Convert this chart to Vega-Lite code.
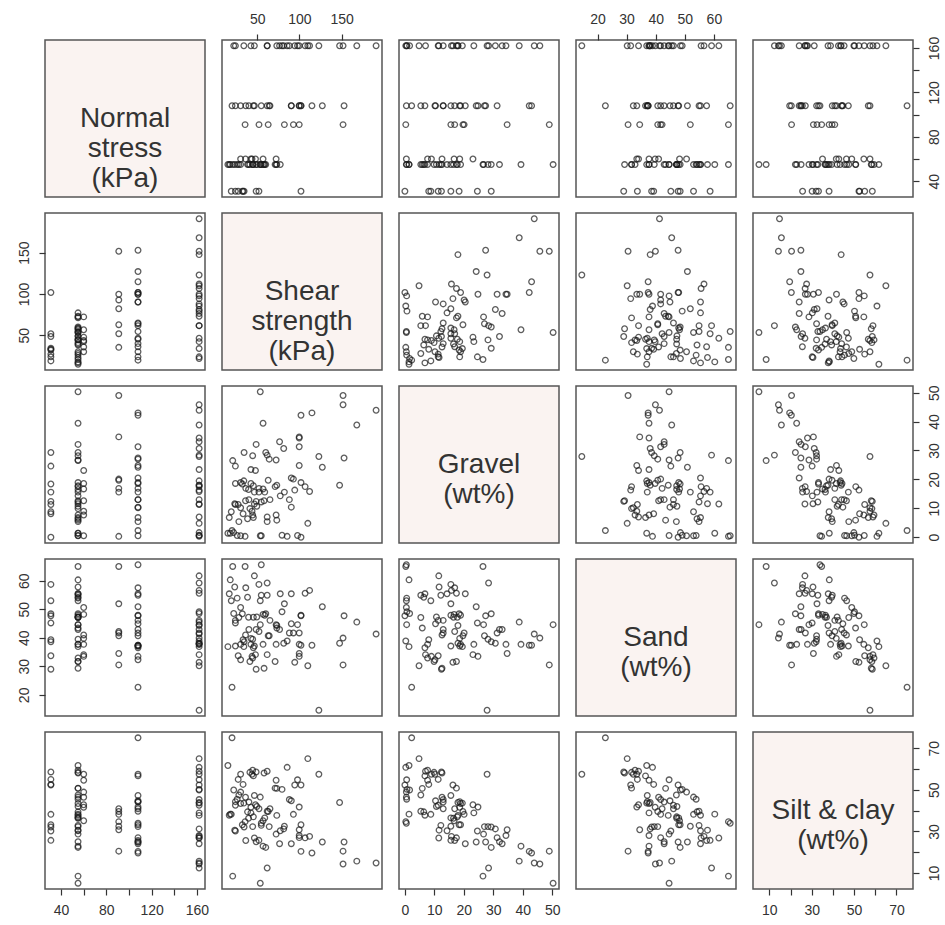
{
  "$schema": "https://vega.github.io/schema/vega-lite/v6.json",
  "background": "white",
  "padding": {"left": 16, "top": 11, "right": 5, "bottom": 5},
  "columns": 5,
  "spacing": {"row": 16, "column": 17},
  "bounds": "flush",
  "config": {
    "view": {"stroke": "#555", "strokeWidth": 1.5},
    "axis": {"domain": false, "grid": false, "tickSize": 6, "tickColor": "#333", "tickWidth": 1.2, "labelColor": "#333", "labelFont": "Liberation Sans", "labelFontSize": 14, "labelPadding": 8, "labelOverlap": false, "labelFlush": false, "title": null}
  },
  "datasets": {
    "labels": [
      {"var": "ns", "label": "Normal\nstress\n(kPa)"},
      {"var": "sh", "label": "Shear\nstrength\n(kPa)"},
      {"var": "g", "label": "Gravel\n(wt%)"},
      {"var": "sa", "label": "Sand\n(wt%)"},
      {"var": "si", "label": "Silt & clay\n(wt%)"}
    ],
    "samples": [
      {"ns":31,"sh":101.8,"g":0.0,"sa":47.7,"si":52.3},
      {"ns":91,"sh":35.5,"g":0.3,"sa":65.0,"si":34.7},
      {"ns":162,"sh":85.4,"g":0.3,"sa":38.9,"si":60.8},
      {"ns":108,"sh":54.7,"g":0.5,"sa":65.6,"si":33.9},
      {"ns":55,"sh":53.5,"g":0.5,"sa":53.0,"si":46.5},
      {"ns":60,"sh":30.2,"g":0.5,"sa":50.6,"si":48.9},
      {"ns":55,"sh":26.1,"g":0.6,"sa":53.9,"si":45.5},
      {"ns":162,"sh":97.7,"g":0.6,"sa":44.6,"si":54.8},
      {"ns":162,"sh":79.3,"g":0.7,"sa":49.1,"si":50.2},
      {"ns":55,"sh":17.9,"g":1.4,"sa":60.3,"si":38.3},
      {"ns":55,"sh":15.1,"g":1.4,"sa":36.9,"si":61.7},
      {"ns":162,"sh":22.0,"g":1.6,"sa":48.5,"si":49.9},
      {"ns":108,"sh":20.0,"g":2.3,"sa":22.7,"si":75.0},
      {"ns":162,"sh":109.9,"g":4.8,"sa":30.2,"si":65.0},
      {"ns":108,"sh":61.7,"g":5.4,"sa":54.9,"si":39.7},
      {"ns":55,"sh":28.1,"g":5.4,"sa":47.1,"si":47.5},
      {"ns":55,"sh":73.1,"g":5.9,"sa":43.4,"si":50.7},
      {"ns":55,"sh":38.4,"g":6.4,"sa":54.2,"si":39.4},
      {"ns":55,"sh":16.7,"g":6.8,"sa":55.4,"si":37.8},
      {"ns":108,"sh":45.3,"g":6.8,"sa":36.5,"si":56.7},
      {"ns":162,"sh":61.7,"g":7.0,"sa":34.1,"si":58.9},
      {"ns":60,"sh":72.3,"g":7.7,"sa":37.7,"si":54.6},
      {"ns":55,"sh":44.5,"g":7.7,"sa":32.9,"si":59.4},
      {"ns":31,"sh":33.1,"g":8.1,"sa":39.3,"si":52.6},
      {"ns":31,"sh":19.1,"g":8.8,"sa":53.0,"si":38.2},
      {"ns":60,"sh":43.7,"g":9.0,"sa":33.5,"si":57.5},
      {"ns":55,"sh":41.2,"g":9.9,"sa":31.7,"si":58.4},
      {"ns":108,"sh":30.2,"g":10.2,"sa":32.3,"si":57.5},
      {"ns":108,"sh":90.3,"g":10.4,"sa":44.9,"si":44.7},
      {"ns":55,"sh":49.4,"g":10.7,"sa":47.3,"si":42.0},
      {"ns":162,"sh":24.0,"g":11.3,"sa":46.1,"si":42.6},
      {"ns":31,"sh":27.3,"g":11.3,"sa":33.7,"si":55.0},
      {"ns":162,"sh":46.5,"g":11.5,"sa":61.7,"si":26.8},
      {"ns":55,"sh":23.2,"g":11.6,"sa":57.8,"si":30.6},
      {"ns":55,"sh":54.7,"g":12.2,"sa":54.9,"si":32.9},
      {"ns":31,"sh":48.6,"g":12.4,"sa":29.0,"si":58.6},
      {"ns":60,"sh":36.0,"g":12.6,"sa":41.0,"si":46.4},
      {"ns":55,"sh":58.0,"g":12.6,"sa":29.3,"si":58.1},
      {"ns":108,"sh":65.0,"g":13.0,"sa":46.1,"si":40.9},
      {"ns":108,"sh":40.0,"g":13.0,"sa":42.9,"si":44.1},
      {"ns":162,"sh":88.0,"g":13.0,"sa":41.7,"si":45.3},
      {"ns":55,"sh":77.2,"g":14.3,"sa":55.4,"si":30.3},
      {"ns":31,"sh":51.9,"g":15.6,"sa":58.7,"si":25.7},
      {"ns":91,"sh":82.1,"g":15.6,"sa":51.9,"si":32.5},
      {"ns":55,"sh":58.8,"g":15.6,"sa":47.9,"si":36.5},
      {"ns":108,"sh":46.5,"g":15.6,"sa":37.1,"si":47.3},
      {"ns":162,"sh":112.0,"g":15.8,"sa":56.6,"si":27.6},
      {"ns":162,"sh":94.4,"g":16.3,"sa":31.4,"si":52.3},
      {"ns":55,"sh":39.6,"g":16.5,"sa":47.2,"si":36.3},
      {"ns":60,"sh":56.8,"g":16.7,"sa":48.2,"si":35.1},
      {"ns":108,"sh":36.3,"g":16.9,"sa":57.5,"si":25.6},
      {"ns":91,"sh":52.0,"g":16.9,"sa":42.2,"si":40.9},
      {"ns":162,"sh":106.7,"g":17.5,"sa":55.6,"si":26.9},
      {"ns":55,"sh":71.1,"g":17.5,"sa":31.7,"si":50.8},
      {"ns":55,"sh":45.3,"g":17.8,"sa":47.2,"si":37.0},
      {"ns":162,"sh":73.1,"g":18.0,"sa":44.3,"si":37.7},
      {"ns":162,"sh":147.6,"g":18.0,"sa":38.1,"si":43.9},
      {"ns":31,"sh":32.2,"g":18.4,"sa":48.4,"si":33.2},
      {"ns":60,"sh":42.4,"g":18.6,"sa":39.8,"si":41.6},
      {"ns":108,"sh":24.0,"g":18.6,"sa":37.1,"si":44.3},
      {"ns":108,"sh":101.8,"g":18.9,"sa":47.9,"si":33.2},
      {"ns":55,"sh":30.2,"g":18.9,"sa":37.7,"si":43.4},
      {"ns":162,"sh":34.0,"g":19.5,"sa":36.9,"si":43.6},
      {"ns":91,"sh":62.9,"g":19.7,"sa":40.7,"si":39.6},
      {"ns":91,"sh":92.8,"g":20.1,"sa":41.7,"si":38.2},
      {"ns":108,"sh":90.3,"g":20.5,"sa":55.4,"si":24.1},
      {"ns":60,"sh":47.8,"g":23.1,"sa":34.1,"si":42.8},
      {"ns":162,"sh":42.4,"g":23.4,"sa":37.7,"si":38.9},
      {"ns":108,"sh":127.1,"g":24.2,"sa":50.9,"si":24.9},
      {"ns":31,"sh":24.0,"g":24.6,"sa":45.2,"si":30.2},
      {"ns":108,"sh":99.7,"g":24.8,"sa":33.5,"si":41.7},
      {"ns":55,"sh":20.8,"g":26.5,"sa":65.0,"si":8.5},
      {"ns":55,"sh":72.3,"g":26.7,"sa":44.6,"si":28.7},
      {"ns":108,"sh":64.1,"g":27.0,"sa":40.7,"si":32.3},
      {"ns":108,"sh":152.9,"g":27.4,"sa":47.7,"si":24.9},
      {"ns":162,"sh":123.0,"g":27.9,"sa":14.6,"si":57.5},
      {"ns":55,"sh":44.5,"g":28.2,"sa":39.5,"si":32.3},
      {"ns":162,"sh":61.7,"g":28.4,"sa":59.2,"si":12.4},
      {"ns":55,"sh":60.0,"g":29.3,"sa":48.4,"si":22.3},
      {"ns":31,"sh":34.3,"g":29.3,"sa":38.6,"si":32.1},
      {"ns":162,"sh":81.3,"g":30.7,"sa":38.1,"si":31.2},
      {"ns":108,"sh":99.7,"g":31.3,"sa":41.7,"si":27.0},
      {"ns":55,"sh":48.6,"g":32.1,"sa":42.9,"si":25.0},
      {"ns":162,"sh":76.4,"g":33.0,"sa":42.9,"si":24.1},
      {"ns":162,"sh":99.7,"g":34.3,"sa":37.7,"si":28.0},
      {"ns":91,"sh":99.7,"g":34.7,"sa":34.5,"si":30.8},
      {"ns":162,"sh":168.0,"g":38.8,"sa":45.5,"si":15.7},
      {"ns":55,"sh":56.8,"g":39.4,"sa":37.7,"si":22.9},
      {"ns":108,"sh":101.8,"g":42.2,"sa":37.4,"si":20.4},
      {"ns":108,"sh":114.8,"g":43.0,"sa":37.4,"si":19.6},
      {"ns":162,"sh":190.9,"g":43.9,"sa":41.3,"si":14.8},
      {"ns":162,"sh":151.7,"g":45.8,"sa":39.9,"si":14.3},
      {"ns":91,"sh":151.7,"g":49.0,"sa":30.5,"si":20.5},
      {"ns":55,"sh":53.5,"g":50.3,"sa":44.6,"si":5.1}
    ]
  },
  "concat": [
    {"width":160,"height":157,"view":{"fill":"#faf3f1"},"data":{"name":"labels"},"transform":[{"filter":"datum.var == 'ns'"}],
     "mark":{"type":"text","font":"Liberation Sans","fontSize":28,"color":"#333","lineBreak":"\n","lineHeight":30,"baseline":"middle","align":"center"},
     "encoding":{"text":{"field":"label"},"x":{"datum":96.5,"type":"quantitative","scale":{"domain":[25.8,167.2],"nice":false,"zero":false},"axis":null},"y":{"datum":96.5,"type":"quantitative","scale":{"domain":[25.8,167.2],"nice":false,"zero":false},"axis":null}}},
    {"width":160,"height":157,"data":{"name":"samples"},"mark":{"type":"point","shape":"circle","filled":false,"size":32,"strokeWidth":1.3,"color":"#1a1a1a"},
     "encoding":{"x":{"field":"sh","type":"quantitative","scale":{"domain":[8.1,197.9],"nice":false,"zero":false},"axis":{"orient":"top","values":[50,100,150]}},
                 "y":{"field":"ns","type":"quantitative","scale":{"domain":[25.8,167.2],"nice":false,"zero":false},"axis":null}}},
    {"width":160,"height":157,"data":{"name":"samples"},"mark":{"type":"point","shape":"circle","filled":false,"size":32,"strokeWidth":1.3,"color":"#1a1a1a"},
     "encoding":{"x":{"field":"g","type":"quantitative","scale":{"domain":[-2,52.3],"nice":false,"zero":false},"axis":null},
                 "y":{"field":"ns","type":"quantitative","scale":{"domain":[25.8,167.2],"nice":false,"zero":false},"axis":null}}},
    {"width":160,"height":157,"data":{"name":"samples"},"mark":{"type":"point","shape":"circle","filled":false,"size":32,"strokeWidth":1.3,"color":"#1a1a1a"},
     "encoding":{"x":{"field":"sa","type":"quantitative","scale":{"domain":[12.6,67.6],"nice":false,"zero":false},"axis":{"orient":"top","values":[20,30,40,50,60]}},
                 "y":{"field":"ns","type":"quantitative","scale":{"domain":[25.8,167.2],"nice":false,"zero":false},"axis":null}}},
    {"width":160,"height":157,"data":{"name":"samples"},"mark":{"type":"point","shape":"circle","filled":false,"size":32,"strokeWidth":1.3,"color":"#1a1a1a"},
     "encoding":{"x":{"field":"si","type":"quantitative","scale":{"domain":[2.3,77.8],"nice":false,"zero":false},"axis":null},
                 "y":{"field":"ns","type":"quantitative","scale":{"domain":[25.8,167.2],"nice":false,"zero":false},"axis":{"orient":"right","labelAngle":-90,"values":[40,60,80,100,120,140,160],"labelExpr":"datum.value % 40 == 0 ? datum.label : ''"}}}},

    {"width":160,"height":157,"data":{"name":"samples"},"mark":{"type":"point","shape":"circle","filled":false,"size":32,"strokeWidth":1.3,"color":"#1a1a1a"},
     "encoding":{"x":{"field":"ns","type":"quantitative","scale":{"domain":[25.8,167.2],"nice":false,"zero":false},"axis":null},
                 "y":{"field":"sh","type":"quantitative","scale":{"domain":[8.1,197.9],"nice":false,"zero":false},"axis":{"orient":"left","labelAngle":-90,"values":[50,100,150]}}}},
    {"width":160,"height":157,"view":{"fill":"#faf3f1"},"data":{"name":"labels"},"transform":[{"filter":"datum.var == 'sh'"}],
     "mark":{"type":"text","font":"Liberation Sans","fontSize":28,"color":"#333","lineBreak":"\n","lineHeight":30,"baseline":"middle","align":"center"},
     "encoding":{"text":{"field":"label"},"x":{"datum":103,"type":"quantitative","scale":{"domain":[8.1,197.9],"nice":false,"zero":false},"axis":null},"y":{"datum":103,"type":"quantitative","scale":{"domain":[8.1,197.9],"nice":false,"zero":false},"axis":null}}},
    {"width":160,"height":157,"data":{"name":"samples"},"mark":{"type":"point","shape":"circle","filled":false,"size":32,"strokeWidth":1.3,"color":"#1a1a1a"},
     "encoding":{"x":{"field":"g","type":"quantitative","scale":{"domain":[-2,52.3],"nice":false,"zero":false},"axis":null},
                 "y":{"field":"sh","type":"quantitative","scale":{"domain":[8.1,197.9],"nice":false,"zero":false},"axis":null}}},
    {"width":160,"height":157,"data":{"name":"samples"},"mark":{"type":"point","shape":"circle","filled":false,"size":32,"strokeWidth":1.3,"color":"#1a1a1a"},
     "encoding":{"x":{"field":"sa","type":"quantitative","scale":{"domain":[12.6,67.6],"nice":false,"zero":false},"axis":null},
                 "y":{"field":"sh","type":"quantitative","scale":{"domain":[8.1,197.9],"nice":false,"zero":false},"axis":null}}},
    {"width":160,"height":157,"data":{"name":"samples"},"mark":{"type":"point","shape":"circle","filled":false,"size":32,"strokeWidth":1.3,"color":"#1a1a1a"},
     "encoding":{"x":{"field":"si","type":"quantitative","scale":{"domain":[2.3,77.8],"nice":false,"zero":false},"axis":null},
                 "y":{"field":"sh","type":"quantitative","scale":{"domain":[8.1,197.9],"nice":false,"zero":false},"axis":null}}},

    {"width":160,"height":157,"data":{"name":"samples"},"mark":{"type":"point","shape":"circle","filled":false,"size":32,"strokeWidth":1.3,"color":"#1a1a1a"},
     "encoding":{"x":{"field":"ns","type":"quantitative","scale":{"domain":[25.8,167.2],"nice":false,"zero":false},"axis":null},
                 "y":{"field":"g","type":"quantitative","scale":{"domain":[-2,52.3],"nice":false,"zero":false},"axis":null}}},
    {"width":160,"height":157,"data":{"name":"samples"},"mark":{"type":"point","shape":"circle","filled":false,"size":32,"strokeWidth":1.3,"color":"#1a1a1a"},
     "encoding":{"x":{"field":"sh","type":"quantitative","scale":{"domain":[8.1,197.9],"nice":false,"zero":false},"axis":null},
                 "y":{"field":"g","type":"quantitative","scale":{"domain":[-2,52.3],"nice":false,"zero":false},"axis":null}}},
    {"width":160,"height":157,"view":{"fill":"#faf3f1"},"data":{"name":"labels"},"transform":[{"filter":"datum.var == 'g'"}],
     "mark":{"type":"text","font":"Liberation Sans","fontSize":28,"color":"#333","lineBreak":"\n","lineHeight":30,"baseline":"middle","align":"center"},
     "encoding":{"text":{"field":"label"},"x":{"datum":25.15,"type":"quantitative","scale":{"domain":[-2,52.3],"nice":false,"zero":false},"axis":null},"y":{"datum":25.15,"type":"quantitative","scale":{"domain":[-2,52.3],"nice":false,"zero":false},"axis":null}}},
    {"width":160,"height":157,"data":{"name":"samples"},"mark":{"type":"point","shape":"circle","filled":false,"size":32,"strokeWidth":1.3,"color":"#1a1a1a"},
     "encoding":{"x":{"field":"sa","type":"quantitative","scale":{"domain":[12.6,67.6],"nice":false,"zero":false},"axis":null},
                 "y":{"field":"g","type":"quantitative","scale":{"domain":[-2,52.3],"nice":false,"zero":false},"axis":null}}},
    {"width":160,"height":157,"data":{"name":"samples"},"mark":{"type":"point","shape":"circle","filled":false,"size":32,"strokeWidth":1.3,"color":"#1a1a1a"},
     "encoding":{"x":{"field":"si","type":"quantitative","scale":{"domain":[2.3,77.8],"nice":false,"zero":false},"axis":null},
                 "y":{"field":"g","type":"quantitative","scale":{"domain":[-2,52.3],"nice":false,"zero":false},"axis":{"orient":"right","labelAngle":-90,"values":[0,10,20,30,40,50]}}}},

    {"width":160,"height":157,"data":{"name":"samples"},"mark":{"type":"point","shape":"circle","filled":false,"size":32,"strokeWidth":1.3,"color":"#1a1a1a"},
     "encoding":{"x":{"field":"ns","type":"quantitative","scale":{"domain":[25.8,167.2],"nice":false,"zero":false},"axis":null},
                 "y":{"field":"sa","type":"quantitative","scale":{"domain":[12.6,67.6],"nice":false,"zero":false},"axis":{"orient":"left","labelAngle":-90,"values":[20,30,40,50,60]}}}},
    {"width":160,"height":157,"data":{"name":"samples"},"mark":{"type":"point","shape":"circle","filled":false,"size":32,"strokeWidth":1.3,"color":"#1a1a1a"},
     "encoding":{"x":{"field":"sh","type":"quantitative","scale":{"domain":[8.1,197.9],"nice":false,"zero":false},"axis":null},
                 "y":{"field":"sa","type":"quantitative","scale":{"domain":[12.6,67.6],"nice":false,"zero":false},"axis":null}}},
    {"width":160,"height":157,"data":{"name":"samples"},"mark":{"type":"point","shape":"circle","filled":false,"size":32,"strokeWidth":1.3,"color":"#1a1a1a"},
     "encoding":{"x":{"field":"g","type":"quantitative","scale":{"domain":[-2,52.3],"nice":false,"zero":false},"axis":null},
                 "y":{"field":"sa","type":"quantitative","scale":{"domain":[12.6,67.6],"nice":false,"zero":false},"axis":null}}},
    {"width":160,"height":157,"view":{"fill":"#faf3f1"},"data":{"name":"labels"},"transform":[{"filter":"datum.var == 'sa'"}],
     "mark":{"type":"text","font":"Liberation Sans","fontSize":28,"color":"#333","lineBreak":"\n","lineHeight":30,"baseline":"middle","align":"center"},
     "encoding":{"text":{"field":"label"},"x":{"datum":40.1,"type":"quantitative","scale":{"domain":[12.6,67.6],"nice":false,"zero":false},"axis":null},"y":{"datum":40.1,"type":"quantitative","scale":{"domain":[12.6,67.6],"nice":false,"zero":false},"axis":null}}},
    {"width":160,"height":157,"data":{"name":"samples"},"mark":{"type":"point","shape":"circle","filled":false,"size":32,"strokeWidth":1.3,"color":"#1a1a1a"},
     "encoding":{"x":{"field":"si","type":"quantitative","scale":{"domain":[2.3,77.8],"nice":false,"zero":false},"axis":null},
                 "y":{"field":"sa","type":"quantitative","scale":{"domain":[12.6,67.6],"nice":false,"zero":false},"axis":null}}},

    {"width":160,"height":157,"data":{"name":"samples"},"mark":{"type":"point","shape":"circle","filled":false,"size":32,"strokeWidth":1.3,"color":"#1a1a1a"},
     "encoding":{"x":{"field":"ns","type":"quantitative","scale":{"domain":[25.8,167.2],"nice":false,"zero":false},"axis":{"orient":"bottom","values":[40,60,80,100,120,140,160],"labelExpr":"datum.value % 40 == 0 ? datum.label : ''"}},
                 "y":{"field":"si","type":"quantitative","scale":{"domain":[2.3,77.8],"nice":false,"zero":false},"axis":null}}},
    {"width":160,"height":157,"data":{"name":"samples"},"mark":{"type":"point","shape":"circle","filled":false,"size":32,"strokeWidth":1.3,"color":"#1a1a1a"},
     "encoding":{"x":{"field":"sh","type":"quantitative","scale":{"domain":[8.1,197.9],"nice":false,"zero":false},"axis":null},
                 "y":{"field":"si","type":"quantitative","scale":{"domain":[2.3,77.8],"nice":false,"zero":false},"axis":null}}},
    {"width":160,"height":157,"data":{"name":"samples"},"mark":{"type":"point","shape":"circle","filled":false,"size":32,"strokeWidth":1.3,"color":"#1a1a1a"},
     "encoding":{"x":{"field":"g","type":"quantitative","scale":{"domain":[-2,52.3],"nice":false,"zero":false},"axis":{"orient":"bottom","values":[0,10,20,30,40,50]}},
                 "y":{"field":"si","type":"quantitative","scale":{"domain":[2.3,77.8],"nice":false,"zero":false},"axis":null}}},
    {"width":160,"height":157,"data":{"name":"samples"},"mark":{"type":"point","shape":"circle","filled":false,"size":32,"strokeWidth":1.3,"color":"#1a1a1a"},
     "encoding":{"x":{"field":"sa","type":"quantitative","scale":{"domain":[12.6,67.6],"nice":false,"zero":false},"axis":null},
                 "y":{"field":"si","type":"quantitative","scale":{"domain":[2.3,77.8],"nice":false,"zero":false},"axis":null}}},
    {"width":160,"height":157,"view":{"fill":"#faf3f1"},"data":{"name":"labels"},"transform":[{"filter":"datum.var == 'si'"}],
     "mark":{"type":"text","font":"Liberation Sans","fontSize":28,"color":"#333","lineBreak":"\n","lineHeight":30,"baseline":"middle","align":"center"},
     "encoding":{"text":{"field":"label"},
                 "x":{"datum":40.05,"type":"quantitative","scale":{"domain":[2.3,77.8],"nice":false,"zero":false},"axis":{"orient":"bottom","values":[10,20,30,40,50,60,70],"labelExpr":"(datum.value - 10) % 20 == 0 ? datum.label : ''"}},
                 "y":{"datum":40.05,"type":"quantitative","scale":{"domain":[2.3,77.8],"nice":false,"zero":false},"axis":{"orient":"right","labelAngle":-90,"values":[10,20,30,40,50,60,70],"labelExpr":"(datum.value - 10) % 20 == 0 ? datum.label : ''"}}}}
  ]
}
